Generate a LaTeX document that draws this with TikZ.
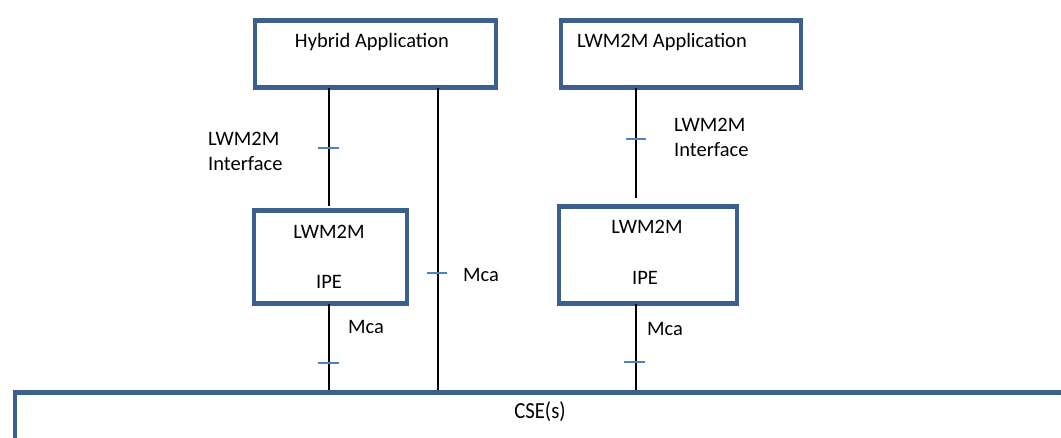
\documentclass[tikz,border=0pt]{standalone}
\usepackage{graphicx}
\usepackage{fontspec}
\setmainfont{Carlito}
\definecolor{boxblue}{RGB}{60,95,140}
\definecolor{tickblue}{RGB}{79,129,189}
\begin{document}
\begin{tikzpicture}[x=1pt,y=-1pt,
  box/.style={draw=boxblue,line width=4.5pt,fill=white,inner sep=0pt,anchor=north west},
  lbl/.style={font=\fontsize{20.5}{25}\selectfont,inner sep=0pt},
  conn/.style={draw=black,line width=1.3pt},
  tickmark/.style={draw=tickblue,line width=1.3pt}]
\useasboundingbox (0,0) rectangle (1061,438);
% boxes (node path = outer edge minus half line width)
\node[box,minimum width=241pt,minimum height=67pt] (hyb) at (252.5,18.5) {};
\node[box,minimum width=240pt,minimum height=67pt] (lapp) at (558.5,18.5) {};
\node[box,minimum width=153pt,minimum height=93pt] (ipeL) at (251.5,208.5) {};
\node[box,minimum width=178pt,minimum height=97pt] (ipeR) at (556.5,204.5) {};
\node[box,minimum width=1100pt,minimum height=80pt] (cse) at (12.5,390.5) {};
% texts
\node[lbl] (thyb) at (372,42) {Hybrid Application};
\node[lbl] (tlapp) at (662,42) {LWM2M Application};
\node[lbl] (tipeL1) at (329,232) {LWM2M};
\node[lbl] (tipeL2) at (329,282) {IPE};
\node[lbl] (tipeR1) at (647,227) {LWM2M};
\node[lbl] (tipeR2) at (645,278) {IPE};
\node[lbl,font=\fontsize{23}{27}\selectfont] (tcse) at (540,412) {\scalebox{0.9}[1]{CSE(s)}};
\node[lbl,anchor=west,align=left] (ifL) at (208,151) {LWM2M\\Interface};
\node[lbl,anchor=west,align=left] (ifR) at (674,137) {LWM2M\\Interface};
\node[lbl,anchor=west] (mca1) at (463,275) {Mca};
\node[lbl,anchor=west] (mca2) at (348,327) {Mca};
\node[lbl,anchor=west] (mca3) at (647,329) {Mca};
% coordinates
\coordinate (a1) at (329,88);
\coordinate (a2) at (329,206);
\coordinate (a3) at (329,304);
\coordinate (a4) at (329,390);
\coordinate (b1) at (438,88);
\coordinate (b2) at (438,390);
\coordinate (c1) at (636,88);
\coordinate (c2) at (636,198);
\coordinate (c3) at (636,304);
\coordinate (c4) at (636,390);
% connectors
\draw[conn] (a1) -- (a2);
\draw[conn] (a3) -- (a4);
\draw[conn] (b1) -- (b2);
\draw[conn] (c1) -- (c2);
\draw[conn] (c3) -- (c4);
% ticks
\coordinate (t1) at (318,148);
\coordinate (t2) at (318,363);
\coordinate (t3) at (427,273);
\coordinate (t4) at (626,139);
\coordinate (t5) at (624,362);
\draw[tickmark] (t1) -- ++(21,0);
\draw[tickmark] (t2) -- ++(21,0);
\draw[tickmark] (t3) -- ++(20,0);
\draw[tickmark] (t4) -- ++(20,0);
\draw[tickmark] (t5) -- ++(21,0);
\end{tikzpicture}
\end{document}
